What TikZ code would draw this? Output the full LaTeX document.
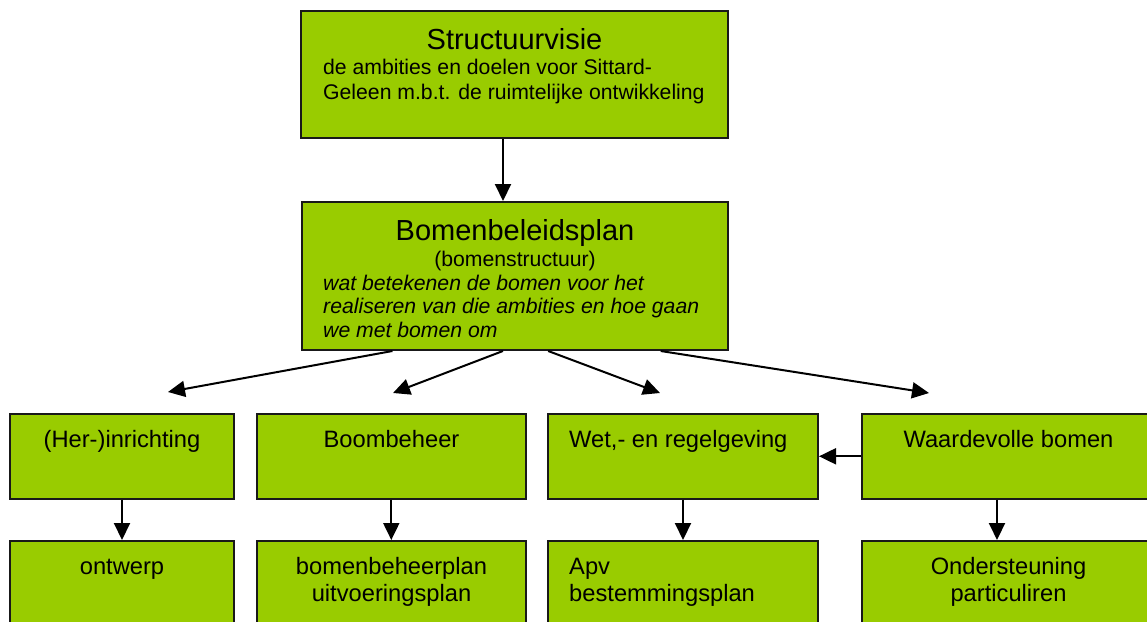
\documentclass[tikz,border=0pt]{standalone}
\usepackage{fontspec}
\setmainfont{Liberation Sans}
\usetikzlibrary{arrows.meta,calc}
\definecolor{boxgreen}{RGB}{153,204,0}
\begin{document}
\begin{tikzpicture}[x=1pt,y=-1pt,
  box/.style={draw=black!90, fill=boxgreen, line width=2pt, inner sep=0pt, rectangle},
  arr/.style={line width=2pt, -{Triangle[length=17pt,width=16pt]}},
  txt/.style={inner sep=0pt, text=black},
  titletxt/.style={txt, font=\fontsize{29}{33}\selectfont, anchor=base},
  subtxt/.style={txt, font=\fontsize{21.2}{24.6}\selectfont, anchor=base west},
  itxt/.style={txt, font=\fontsize{21.2}{24.6}\selectfont\itshape, anchor=base west},
  rowtxt/.style={txt, font=\fontsize{23.7}{27.5}\selectfont, anchor=base},
  rowltxt/.style={rowtxt, anchor=base west},
]
\clip (0,0) rectangle (1147,621);
\fill[white] (0,0) rectangle (1147,621);
% boxes
\node[box, minimum width=427pt, minimum height=127pt] (top) at (514.5,74.5) {};
\node[box, minimum width=426pt, minimum height=148pt] (mid) at (515,276) {};
\node[box, minimum width=224pt, minimum height=84.7pt] (r1a) at (122,456.3) {};
\node[box, minimum width=269.3pt, minimum height=84.7pt] (r1b) at (391.3,456.3) {};
\node[box, minimum width=270pt, minimum height=84.7pt] (r1c) at (683,456.3) {};
\node[box, minimum width=300pt, minimum height=84.7pt] (r1d) at (1012,456.3) {};
\node[box, minimum width=224pt, minimum height=99pt] (r2a) at (122,590.5) {};
\node[box, minimum width=269.3pt, minimum height=99pt] (r2b) at (391.3,590.5) {};
\node[box, minimum width=270pt, minimum height=99pt] (r2c) at (683,590.5) {};
\node[box, minimum width=300pt, minimum height=99pt] (r2d) at (1012,590.5) {};
% texts
\node[titletxt] (ttop) at (514.5,49) {Structuurvisie};
\node[subtxt] (stop1) at (323,74) {de ambities en doelen voor Sittard-};
\node[subtxt] (stop2) at (323,99) {Geleen m.b.t. de ruimtelijke ontwikkeling};
\node[titletxt] (tmid) at (515,240) {Bomenbeleidsplan};
\node[txt, font=\fontsize{21.2}{24.4}\selectfont, anchor=base] (pmid) at (515,266) {(bomenstructuur)};
\node[itxt] (imid1) at (323,290) {wat betekenen de bomen voor het};
\node[itxt] (imid2) at (323,313.5) {realiseren van die ambities en hoe gaan};
\node[itxt] (imid3) at (323,337.5) {we met bomen om};
\node[rowtxt] (la) at (122,447) {(Her-)inrichting};
\node[rowtxt] (lb) at (391.5,447) {Boombeheer};
\node[rowltxt] (lc) at (569,447) {Wet,- en regelgeving};
\node[rowtxt] (ld) at (1008.5,447) {Waardevolle bomen};
\node[rowtxt] (ma) at (122,574) {ontwerp};
\node[rowtxt] (mb1) at (391.5,574.5) {bomenbeheerplan};
\node[rowtxt] (mb2) at (391.5,601.7) {uitvoeringsplan};
\node[rowltxt] (mc1) at (569,574.5) {Apv};
\node[rowltxt] (mc2) at (569,601.7) {bestemmingsplan};
\node[rowtxt] (md1) at (1008.5,574.5) {Ondersteuning};
\node[rowtxt] (md2) at (1008.5,601.7) {particuliren};
% coordinates
\coordinate (vx) at (503,0);
\coordinate (dx) at (997,0);
\coordinate (t1) at (168,392);
\coordinate (t2) at (393,393);
\coordinate (t3) at (660,393);
\coordinate (t4) at (929,393);
% connectors
\draw[arr] (top.south -| vx) -- (mid.north -| vx);
\draw[arr] ($(mid.south west)!0.2136!(mid.south east)$) -- (t1);
\draw[arr] ($(mid.south west)!0.4718!(mid.south east)$) -- (t2);
\draw[arr] ($(mid.south west)!0.5775!(mid.south east)$) -- (t3);
\draw[arr] ($(mid.south west)!0.8404!(mid.south east)$) -- (t4);
\draw[arr] (r1a.south) -- (r2a.north);
\draw[arr] (r1b.south) -- (r2b.north);
\draw[arr] (r1c.south) -- (r2c.north);
\draw[arr] (r1d.south -| dx) -- (r2d.north -| dx);
\draw[arr] (r1d.west) -- (r1c.east);
\end{tikzpicture}
\end{document}
